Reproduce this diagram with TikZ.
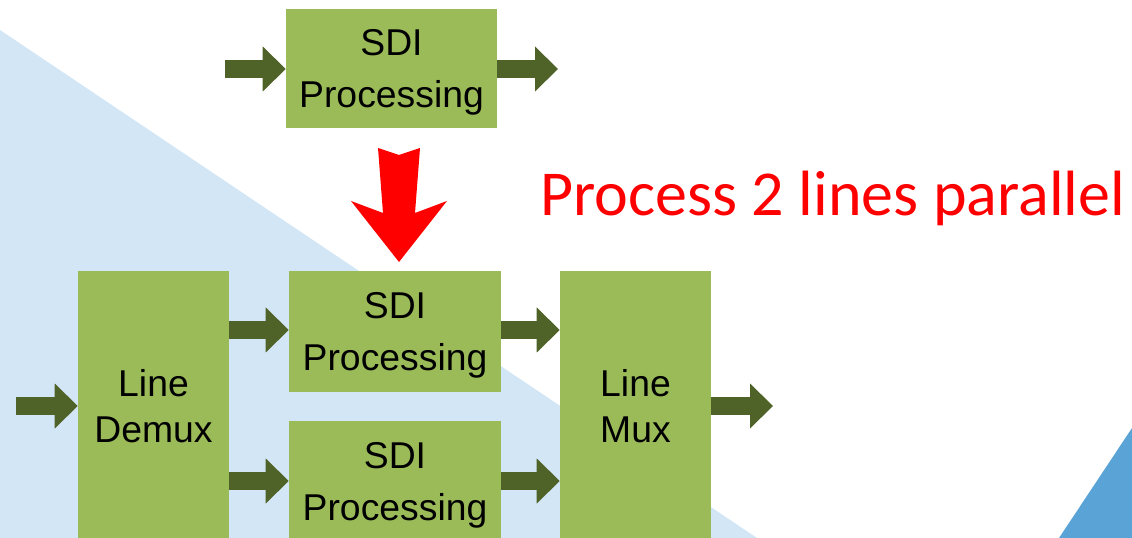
\documentclass[tikz,border=0pt]{standalone}
\usepackage{fontspec}
\setmainfont{Liberation Sans}
\newfontfamily\notefont{Carlito}
\usetikzlibrary{arrows.meta}
\definecolor{boxgreen}{HTML}{9BBB59}
\definecolor{arrowgreen}{HTML}{4F6228}
\definecolor{paleblue}{HTML}{D3E6F5}
\definecolor{deepblue}{HTML}{5AA3D6}
\definecolor{alertred}{HTML}{FF0000}
\tikzset{
  blockbox/.style={fill=boxgreen, inner sep=0pt, align=center, text depth=0pt,
    font=\fontsize{28}{39}\selectfont},
  muxbox/.style={blockbox, font=\fontsize{28}{34.5}\selectfont},
  flow/.style={draw=arrowgreen, line width=13.5pt, line cap=butt,
    -{Triangle[length=17.25pt, width=33.75pt, line width=0pt]}},
}
\begin{document}
\begin{tikzpicture}[x=0.75pt, y=-0.75pt]
  \useasboundingbox (0,0) rectangle (1132,538);
  \clip (0,0) rectangle (1132,538);
  % background wedges
  \fill[paleblue] (0,30) -- (757,538) -- (0,538) -- cycle;
  \fill[deepblue] (1059,538) -- (1132,428) -- (1132,538) -- cycle;

  % single-line processing
  \node[blockbox, minimum width=158.25pt, minimum height=89.25pt] (single) at (391.5,68.5) {SDI\\Processing};
  \coordinate (singlein) at (225,69);
  \coordinate (singleout) at (558,69);
  \draw[flow] (singlein) -- (single.west |- singlein);
  \draw[flow] (single.east |- singleout) -- (singleout);

  % transformation arrow
  \fill[alertred] (378,148) -- (399,155) -- (420,148) -- (415,213) -- (447,201)
    -- (399,262) -- (351,201) -- (383,213) -- cycle;
  \node[text=alertred, font=\notefont\fontsize{48}{57}\selectfont, anchor=base west, inner sep=0pt]
    (note) at (540,216) {Process 2 lines parallel};

  % two-line parallel processing
  \node[muxbox, minimum width=113.25pt, minimum height=201.75pt] (demux) at (153.5,405.5) {Line\\Demux};
  \node[blockbox, minimum width=159pt, minimum height=90.75pt] (upper) at (395,331.5) {SDI\\Processing};
  \node[blockbox, minimum width=159pt, minimum height=90.75pt] (lower) at (395,481.5) {SDI\\Processing};
  \node[muxbox, minimum width=113.25pt, minimum height=201.75pt] (mux) at (635.5,405.5) {Line\\Mux};

  \coordinate (pin) at (16,406);
  \coordinate (pout) at (773,406);
  \coordinate (upy) at (0,330);
  \coordinate (loy) at (0,481);
  \draw[flow] (pin) -- (demux.west |- pin);
  \draw[flow] (demux.east |- upy) -- (upper.west |- upy);
  \draw[flow] (demux.east |- loy) -- (lower.west |- loy);
  \draw[flow] (upper.east |- upy) -- (mux.west |- upy);
  \draw[flow] (lower.east |- loy) -- (mux.west |- loy);
  \draw[flow] (mux.east |- pout) -- (pout);
\end{tikzpicture}
\end{document}
